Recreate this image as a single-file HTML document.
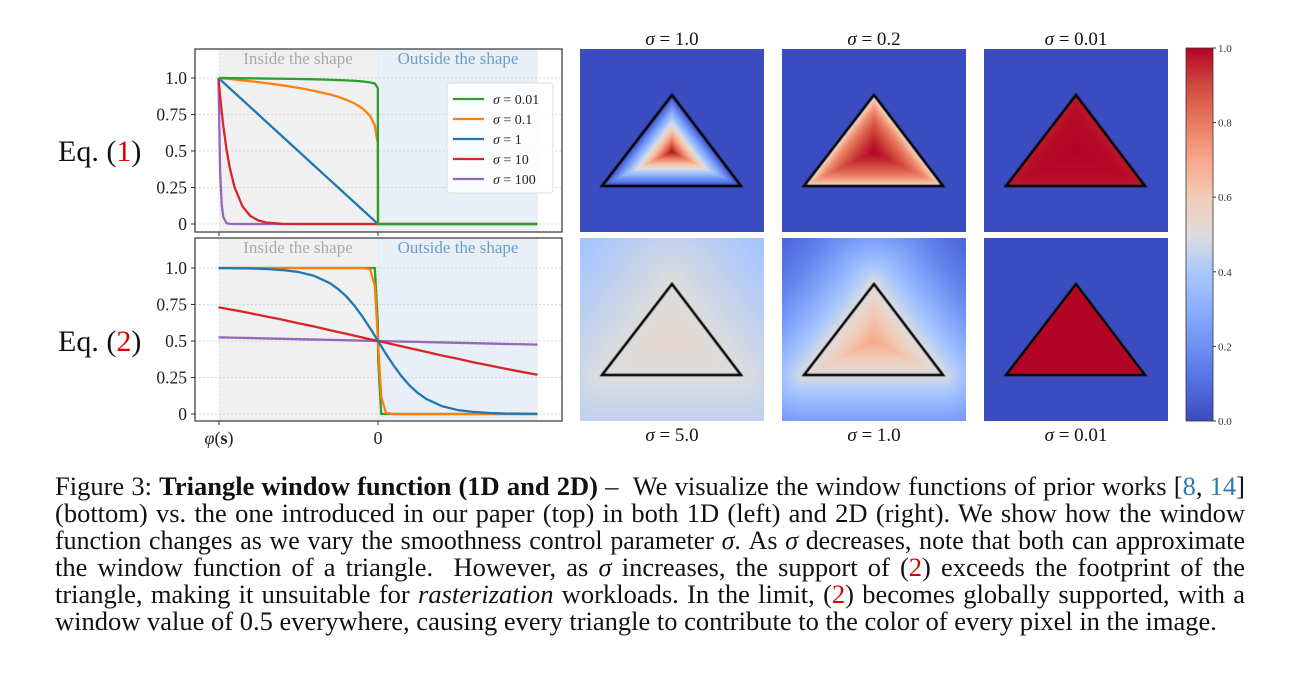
<!DOCTYPE html>
<html><head><meta charset="utf-8">
<style>
body{margin:0;background:#fff;width:1298px;height:683px;position:relative;overflow:hidden;font-family:"Liberation Serif",serif}
svg{position:absolute;left:0;top:0}
canvas{position:absolute}
.cap{position:absolute;left:55px;width:1190px;font-size:26.5px;line-height:27px;color:#111;white-space:nowrap}
.j{text-align:justify;text-align-last:justify;white-space:normal}
.red{color:#d00}.blue{color:#2a7ab8}
</style></head><body>
<svg id="fig" width="1298" height="460"></svg>
<canvas id="c1" width="184" height="183" style="left:580px;top:49px"></canvas>
<canvas id="c2" width="184" height="183" style="left:782px;top:49px"></canvas>
<canvas id="c3" width="184" height="183" style="left:984px;top:49px"></canvas>
<canvas id="c4" width="184" height="183" style="left:580px;top:238px"></canvas>
<canvas id="c5" width="184" height="183" style="left:782px;top:238px"></canvas>
<canvas id="c6" width="184" height="183" style="left:984px;top:238px"></canvas>

<div class="cap j" style="top:473px">Figure 3: <b>Triangle window function (1D and 2D)</b> – &nbsp;We visualize the window functions of prior works [<span class="blue">8</span>, <span class="blue">14</span>]</div>
<div class="cap j" style="top:500px">(bottom) vs. the one introduced in our paper (top) in both 1D (left) and 2D (right). We show how the window</div>
<div class="cap j" style="top:527px;font-size:25.9px">function changes as we vary the smoothness control parameter <i>σ</i>. As <i>σ</i> decreases, note that both can approximate</div>
<div class="cap j" style="top:554px">the window function of a triangle. &nbsp;However, as <i>σ</i> increases, the support of (<span class="red">2</span>) exceeds the footprint of the</div>
<div class="cap j" style="top:581px">triangle, making it unsuitable for <i>rasterization</i> workloads. In the limit, (<span class="red">2</span>) becomes globally supported, with a</div>
<div class="cap" style="top:608px">window value of 0.5 everywhere, causing every triangle to contribute to the color of every pixel in the image.</div>

<script>
const xs=[-1,-0.99,-0.98,-0.97,-0.95,-0.93,-0.9,-0.85,-0.8,-0.75,-0.7,-0.6,-0.5,-0.4,-0.3,-0.25,-0.2,-0.15,-0.1,-0.05,-0.02,-0.001,0,0.001,0.02,0.05,0.1,0.15,0.2,0.25,0.3,0.4,0.5,0.6,0.7,0.8,0.9,1];
const ZEROS16=[0,0,0,0,0,0,0,0,0,0,0,0,0,0,0,0];
const eq1_s001=[1,1,1,1,1,.999,.999,.998,.998,.997,.996,.995,.993,.991,.988,.986,.984,.981,.977,.97,.962,.93].concat(ZEROS16);
const eq1_s01=[1,.999,.998,.997,.995,.993,.99,.984,.978,.972,.965,.95,.933,.912,.887,.871,.851,.827,.794,.741,.676,.55].concat(ZEROS16);
const eq1_s1=[1,.99,.98,.97,.95,.93,.9,.85,.8,.75,.7,.6,.5,.4,.3,.25,.2,.15,.1,.05,.02,.001].concat(ZEROS16);
const eq1_s10=[1,.878,.769,.673,.513,.389,.254,.121,.055,.024,.01,.001,0,0,0,0,0,0,0,0,0,0].concat(ZEROS16);
const eq1_s100=[1,.366,.133,.048,.006,.001,0,0,0,0,0,0,0,0,0,0,0,0,0,0,0,0].concat(ZEROS16);
const eq2_green=[1,1,1,1,1,1,1,1,1,1,1,1,1,1,1,1,1,1,1,1,1,.62,.5,.38,0,0,0,0,0,0,0,0,0,0,0,0,0,0];
const eq2_orange=[1,1,1,1,1,1,1,1,1,1,1,1,1,1,1,1,1,1,1,.993,.881,.525,.5,.475,.119,.007,0,0,0,0,0,0,0,0,0,0,0,0];
const eq2_blue=[.999,.999,.999,.999,.999,.999,.998,.998,.997,.995,.993,.986,.973,.946,.895,.856,.807,.745,.671,.588,.536,.502,.5,.498,.464,.412,.329,.255,.193,.144,.105,.054,.027,.014,.007,.003,.002,.001];
const eq2_red=[.731,.729,.727,.725,.721,.717,.711,.701,.69,.679,.668,.646,.622,.599,.574,.562,.55,.537,.525,.512,.505,.5,.5,.5,.495,.488,.475,.463,.45,.438,.426,.401,.378,.354,.332,.31,.289,.269];
const eq2_purple=[.525,.525,.5245,.5243,.5238,.5233,.5225,.5213,.52,.5188,.5175,.515,.5125,.51,.5075,.5063,.505,.5038,.5025,.5013,.5005,.5,.5,.5,.4995,.4988,.4975,.4963,.495,.4938,.4925,.49,.4875,.485,.4825,.48,.4775,.475];
const yTicks=[0,0.25,0.5,0.75,1.0];
const yTickLabels=["0","0.25","0.5","0.75","1.0"];
const legendLabels=["0.01","0.1","1","10","100"];
const cbTicks=[0,0.2,0.4,0.6,0.8,1.0];
const cbLabels=["0.0","0.2","0.4","0.6","0.8","1.0"];
const topTitles=["1.0","0.2","0.01"];
const botTitles=["5.0","1.0","0.01"];
const eq1Sigmas=[1,0.2,0.01];
const eq2Sigmas=[5,1,0.01];

const NS="http://www.w3.org/2000/svg";
const svg=document.getElementById('fig');
function el(t,a,p){const e=document.createElementNS(NS,t);for(const k in a)e.setAttribute(k,a[k]);(p||svg).appendChild(e);return e;}
const C={g:'#2ca02c',o:'#ff7f0e',b:'#1f77b4',r:'#d62728',p:'#9467bd'};
const xS=x=>378+x*159.5;
function panel(top,bottom,y1,y0,series,name,eqNum){
  const g=el('g',{});
  
  
  const yS=v=>y0+(y1-y0)*v;
  const r1=el('rect',{x:219,y:top,width:159,height:bottom-top,fill:'#f0f0f1'},g);
  
  const r2=el('rect',{x:378,y:top,width:160,height:bottom-top,fill:'#e8eff6'},g);
  
  yTicks.forEach((v,i)=>{
    el('line',{x1:195,x2:562,y1:yS(v),y2:yS(v),stroke:'#ccc','stroke-width':0.8,'stroke-dasharray':'2,2'},g);
    el('line',{x1:191,x2:195,y1:yS(v),y2:yS(v),stroke:'#333'},g);
    const t=el('text',{x:187,y:yS(v)+6,'text-anchor':'end','font-size':17.5,fill:'#222'},g);t.textContent=yTickLabels[i];
    
  });
  [219,378].forEach(x=>el('line',{x1:x,x2:x,y1:top,y2:bottom,stroke:'#ddd','stroke-width':0.8,'stroke-dasharray':'2,2'},g));
  const t1=el('text',{x:298,y:top+15,'text-anchor':'middle','font-size':17,fill:'#aaa'},g);t1.textContent='Inside the shape';
  
  const t2=el('text',{x:458,y:top+15,'text-anchor':'middle','font-size':17,fill:'#6e9ec4'},g);t2.textContent='Outside the shape';
  
  series.forEach(s=>{
    const pts=xs.map((x,i)=>xS(x).toFixed(2)+','+yS(s.v[i]).toFixed(2)).join(' ');
    const l=el('polyline',{points:pts,fill:'none',stroke:s.c,'stroke-width':2.3,'stroke-linejoin':'round'},g);
    
  });
  el('rect',{x:195,y:top,width:367,height:bottom-top,fill:'none',stroke:'#333','stroke-width':1.2},g);
  [219,378].forEach(x=>el('line',{x1:x,x2:x,y1:bottom,y2:bottom+4,stroke:'#333'},g));
  const eq=el('text',{x:58,y:(y0+y1)/2+10,'font-size':30,fill:'#111'},g);
  eq.innerHTML='Eq. (<tspan fill="#d00">'+eqNum+'</tspan>)';
  
}
panel(49,232,78,224,[
 {v:eq1_s100,c:C.p,n:'line-sigma-100'},{v:eq1_s10,c:C.r,n:'line-sigma-10'},{v:eq1_s1,c:C.b,n:'line-sigma-1'},
 {v:eq1_s01,c:C.o,n:'line-sigma-0.1'},{v:eq1_s001,c:C.g,n:'line-sigma-0.01'}],'eq1-chart',1);
panel(238,421,268,414,[
 {v:eq2_purple,c:C.p,n:'line-sigma-100'},{v:eq2_red,c:C.r,n:'line-sigma-10'},{v:eq2_green,c:C.g,n:'line-sigma-0.01'},
 {v:eq2_orange,c:C.o,n:'line-sigma-0.1'},{v:eq2_blue,c:C.b,n:'line-sigma-1'}],'eq2-chart',2);
// legend
const lg=el('g',{});

el('rect',{x:447,y:83,width:106,height:110,rx:3,fill:'#fff','fill-opacity':0.85,stroke:'#ddd'},lg);
[C.g,C.o,C.b,C.r,C.p].forEach((c,i)=>{
  const y=99+i*20;
  el('line',{x1:453,x2:484,y1:y,y2:y,stroke:c,'stroke-width':2.2},lg);
  const t=el('text',{x:493,y:y+5,'font-size':14,fill:'#222'},lg);t.innerHTML='<tspan font-style="italic">σ</tspan> = '+legendLabels[i];
  
});
// x labels
let tx=el('text',{x:219,y:444,'text-anchor':'middle','font-size':18,fill:'#222'});tx.innerHTML='<tspan font-style="italic">φ</tspan>(<tspan font-weight="bold">s</tspan>)';

tx=el('text',{x:378,y:444,'text-anchor':'middle','font-size':18,fill:'#222'});tx.textContent='0';

// titles
[672,874,1076].forEach((cx,i)=>{
  let t=el('text',{x:cx,y:45,'text-anchor':'middle','font-size':19,fill:'#111'});t.innerHTML='<tspan font-style="italic">σ</tspan> = '+topTitles[i];
  
  t=el('text',{x:cx,y:441,'text-anchor':'middle','font-size':19,fill:'#111'});t.innerHTML='<tspan font-style="italic">σ</tspan> = '+botTitles[i];
  
});
// colormap
const cmK=[[0,59,76,192],[.1,82,109,224],[.2,109,144,243],[.3,139,174,253],[.4,170,199,253],[.5,221,221,221],[.6,242,203,183],[.7,246,167,137],[.8,234,123,96],[.9,208,73,62],[1,180,4,38]];
function cm(v){v=Math.max(0,Math.min(1,v));for(let i=1;i<cmK.length;i++){if(v<=cmK[i][0]){const a=cmK[i-1],b=cmK[i],t=(v-a[0])/(b[0]-a[0]);return [a[1]+t*(b[1]-a[1]),a[2]+t*(b[2]-a[2]),a[3]+t*(b[3]-a[3])];}}return cmK[10].slice(1);}
// colorbar
const defs=el('defs',{});const gr=el('linearGradient',{id:'cbg',x1:0,y1:1,x2:0,y2:0},defs);
for(let i=0;i<=20;i++){const c=cm(i/20);el('stop',{offset:i/20,'stop-color':'rgb('+c.map(Math.round).join(',')+')'},gr);}
const cb=el('rect',{x:1186,y:48,width:27,height:373,fill:'url(#cbg)',stroke:'#333','stroke-width':0.8});

cbTicks.forEach((v,i)=>{const y=421-373*v;el('line',{x1:1213,x2:1216,y1:y,y2:y,stroke:'#333'});
  const t=el('text',{x:1218,y:y+4,'font-size':11,fill:'#333'});t.textContent=cbLabels[i];
  });
// heatmaps
const A=[92,46],B=[22,137],D=[161,137];
function segd(px,py,a,b){const dx=b[0]-a[0],dy=b[1]-a[1];let t=((px-a[0])*dx+(py-a[1])*dy)/(dx*dx+dy*dy);t=Math.max(0,Math.min(1,t));return Math.hypot(px-a[0]-t*dx,py-a[1]-t*dy);}
function inside(px,py){const s=(p,q)=>(q[0]-p[0])*(py-p[1])-(q[1]-p[1])*(px-p[0]);const a=s(A,B),b=s(B,D),c=s(D,A);return (a>=0&&b>=0&&c>=0)||(a<=0&&b<=0&&c<=0);}
const area=Math.abs((B[0]-A[0])*(D[1]-A[1])-(D[0]-A[0])*(B[1]-A[1]))/2;
const per=Math.hypot(B[0]-A[0],B[1]-A[1])+Math.hypot(D[0]-B[0],D[1]-B[1])+Math.hypot(A[0]-D[0],A[1]-D[1]);
const rin=area/(per/2);
function draw(id,f){const cv=document.getElementById(id),ctx=cv.getContext('2d'),im=ctx.createImageData(184,183);
 for(let y=0;y<183;y++)for(let x=0;x<184;x++){const px=x+.5,py=y+.5;const d=Math.min(segd(px,py,A,B),segd(px,py,B,D),segd(px,py,D,A))/rin;
  const sd=inside(px,py)?d:-d;const c=cm(f(sd));const k=(y*184+x)*4;im.data[k]=c[0];im.data[k+1]=c[1];im.data[k+2]=c[2];im.data[k+3]=255;}
 ctx.putImageData(im,0,0);ctx.strokeStyle='#000';ctx.lineWidth=2.5;ctx.lineJoin='miter';ctx.beginPath();ctx.moveTo(A[0],A[1]);ctx.lineTo(B[0],B[1]);ctx.lineTo(D[0],D[1]);ctx.closePath();ctx.stroke();}
['c1','c2','c3'].forEach((id,i)=>draw(id,sd=>sd>0?Math.pow(Math.min(sd,1),eq1Sigmas[i]):0));
['c4','c5','c6'].forEach((id,i)=>draw(id,sd=>1/(1+Math.exp(-sd/(eq2Sigmas[i]*1.2)))));
</script>
</body></html>
